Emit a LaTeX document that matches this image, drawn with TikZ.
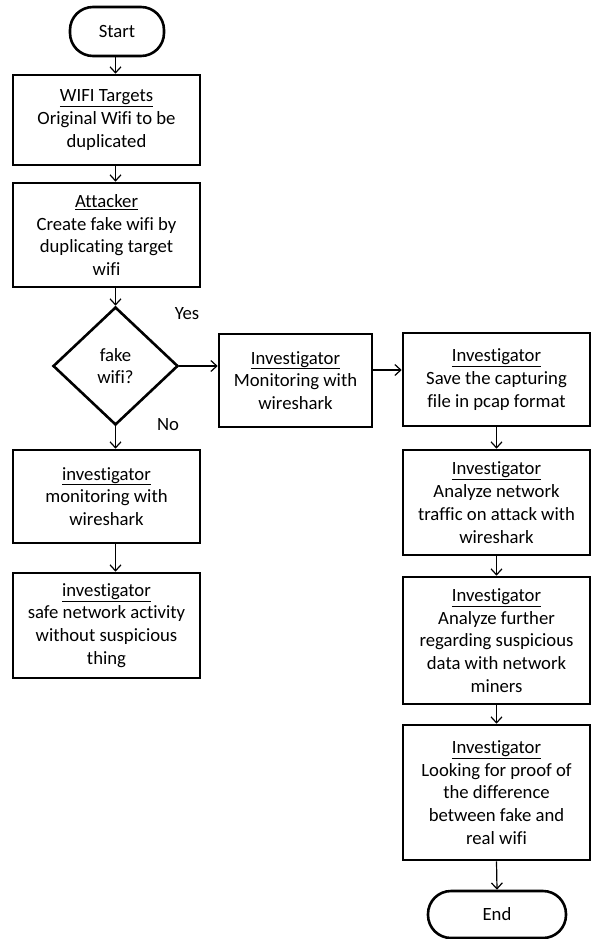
\documentclass[tikz,border=0pt]{standalone}
\usepackage{fontspec}
\setmainfont{Carlito}[Ligatures=NoCommon]
\usetikzlibrary{shapes.geometric,arrows.meta,calc}
\begin{document}
\begin{tikzpicture}[x=1pt,y=-1pt,
  every node/.style={font=\fontsize{18.7}{22.8}\selectfont, align=center},
  box/.style={draw, line width=2.6pt, inner sep=0pt, minimum width=187pt},
  term/.style={draw, line width=2.6pt, inner sep=0pt, rounded corners=23pt},
  dec/.style={draw, diamond, line width=2.6pt, inner sep=0pt, aspect=1.06, minimum width=125pt, minimum height=118pt},
  arr/.style={line width=1.2pt, -{Straight Barb[length=6pt,width=11pt,line width=1.2pt]}},
  lbl/.style={inner sep=0pt}
]
\useasboundingbox (0,0) rectangle (591,939);
\fill[white] (0,0) rectangle (591,939);

\node[term, minimum width=94pt, minimum height=49pt] (start) at (117,31.5) {Start};
\node[box, minimum height=90pt] (wifi) at (106.5,120) {\underline{WIFI Targets}\\Original Wifi to be\\duplicated};
\node[box, minimum height=104pt] (att) at (106.5,235) {\underline{Attacker}\\Create fake wifi by\\duplicating target\\wifi};
\node[dec] (d) at (115.5,366) {fake\\wifi?};
\node[box, minimum height=93pt] (inv1) at (106.5,496.5) {\underline{investigator}\\monitoring with\\wireshark};
\node[box, minimum height=105pt] (safe) at (106.5,625.5) {\underline{investigator}\\safe network activity\\without suspicious\\thing};
\node[box, minimum width=153pt, minimum height=93pt] (mon) at (295.5,380.5) {\underline{Investigator}\\Monitoring with\\wireshark};
\node[box, minimum height=93pt] (save) at (496.5,379.5) {\underline{Investigator}\\Save the capturing\\file in pcap format};
\node[box, minimum height=105pt] (ana) at (496.5,502.5) {\underline{Investigator}\\Analyze network\\traffic on attack with\\wireshark};
\node[box, minimum height=127pt] (fur) at (496.5,640.5) {\underline{Investigator}\\Analyze further\\regarding suspicious\\data with network\\miners};
\node[box, minimum height=135pt] (look) at (496.5,792.5) {\underline{Investigator}\\Looking for proof of\\the difference\\between fake and\\real wifi};
\node[term, minimum width=138pt, minimum height=47pt] (end) at (497,914.5) {End};

\node[lbl] (yes) at (187,314) {Yes};
\node[lbl] (no) at (168,425) {No};

\draw[arr] (start.south -| d.north) -- (wifi.north -| d.north);
\draw[arr] (wifi.south -| d.north) -- (att.north -| d.north);
\draw[arr] (att.south -| d.north) -- (d.north);
\draw[arr] (d.south) -- (inv1.north -| d.south);
\draw[arr] (inv1.south -| d.south) -- (safe.north -| d.south);
\draw[arr] (d.east) -- (d.east -| mon.west);
\coordinate (h2) at (0,370);
\draw[arr] (mon.east |- h2) -- (save.west |- h2);
\draw[arr] (save.south) -- (ana.north);
\draw[arr] (ana.south) -- (fur.north);
\draw[arr] (fur.south) -- (look.north);
\draw[arr] (look.south) -- (end.north);
\end{tikzpicture}
\end{document}
